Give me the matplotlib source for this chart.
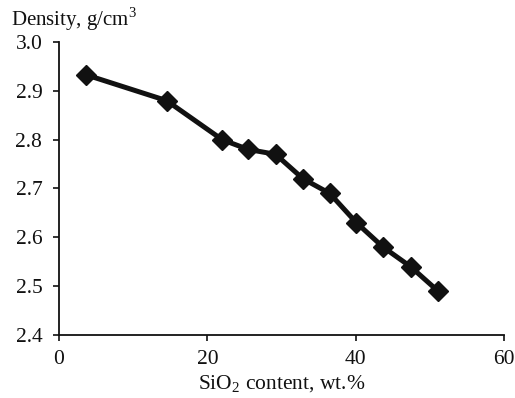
import matplotlib.pyplot as plt

# SiO2 content (wt.%) vs density (g/cm3)
sio2 = [3.6, 14.5, 22.0, 25.5, 29.2, 32.9, 36.5, 40.1, 43.7, 47.4, 51.1]
density = [2.933, 2.88, 2.80, 2.78, 2.77, 2.72, 2.69, 2.63, 2.58, 2.54, 2.49]
x_ticks = [0, 20, 40, 60]
y_ticks = [2.4, 2.5, 2.6, 2.7, 2.8, 2.9, 3.0]

plt.rcParams['font.family'] = ['Liberation Serif', 'DejaVu Serif']
plt.rcParams['mathtext.fontset'] = 'custom'
plt.rcParams['mathtext.rm'] = 'Liberation Serif'

fig = plt.figure(figsize=(5.15, 3.98), dpi=100)
ax = fig.add_axes([0.1146, 0.1583, 0.864, 0.7362])

ax.plot(sio2, density, color='#111111', lw=3.6, marker='D', ms=10.5,
        markerfacecolor='#111111', markeredgecolor='#111111', solid_joinstyle='round')

ax.set_xlim(0, 60)
ax.set_ylim(2.4, 3.0)
ax.set_xticks(x_ticks)
ax.set_yticks(y_ticks)
ax.set_yticklabels([f'{v:.1f}' for v in y_ticks])
ax.tick_params(direction='out', length=4, width=1.2, labelsize=15.5, colors='#111111')
ax.tick_params(axis='y', pad=8)
ax.tick_params(axis='x', pad=7)
for side in ['top', 'right']:
    ax.spines[side].set_visible(False)
for side in ['left', 'bottom']:
    ax.spines[side].set_linewidth(1.3)
    ax.spines[side].set_color('#111111')

fig.text(0.022, 0.952, 'Density, g/cm$^3$', fontsize=15, va='center', ha='left', color='#111111')
fig.text(0.546, 0.034, 'SiO$_2$ content, wt.%', fontsize=15.5, va='center', ha='center', color='#111111')

fig.savefig('out.png', dpi=100)
